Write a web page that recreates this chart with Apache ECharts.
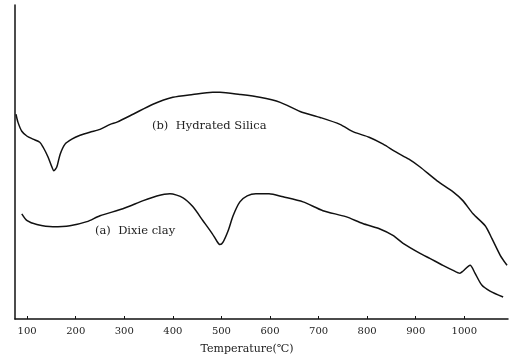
<!DOCTYPE html>
<html>
<head>
<meta charset="utf-8">
<script src="https://cdn.jsdelivr.net/npm/echarts@6/dist/echarts.min.js"></script>
<style>
  html, body { margin: 0; padding: 0; background: #fff; }
  #chart { width: 516px; height: 360px; }
</style>
</head>
<body>
<div id="chart"></div>
<script>
// DTA curves, temperature in deg C, deflection in arbitrary units (0-100)
const tempTicks = [100, 200, 300, 400, 500, 600, 700, 800, 900, 1000]

const silicaTemp = [77, 81, 89, 100, 112, 126, 133, 143, 151, 155, 161, 168, 178, 192, 209, 229, 250, 271, 285, 318, 359, 400, 441, 482, 497, 538, 579, 621, 662, 703, 744, 773, 804, 833, 859, 886, 909, 944, 977, 997, 1018, 1043, 1057, 1074, 1088]
const silicaDefl = [65.2, 62.7, 59.8, 58.2, 57.3, 56.3, 54.7, 51.6, 48.4, 47.2, 48.4, 52.5, 55.7, 57.3, 58.5, 59.5, 60.4, 62.0, 62.7, 65.2, 68.4, 70.6, 71.5, 72.2, 72.2, 71.5, 70.6, 69.0, 66.1, 64.2, 62.0, 59.5, 57.9, 55.7, 53.2, 50.9, 48.4, 44.0, 40.5, 37.7, 33.5, 29.7, 25.6, 20.3, 17.1]

const clayTemp = [89, 100, 120, 153, 188, 223, 250, 297, 339, 367, 394, 421, 441, 462, 481, 491, 497, 503, 514, 524, 538, 553, 571, 598, 627, 668, 709, 756, 791, 824, 853, 874, 909, 929, 956, 977, 991, 997, 1012, 1022, 1036, 1053, 1080]
const clayDefl = [33.5, 31.3, 30.1, 29.4, 29.7, 31.0, 32.9, 35.1, 37.7, 39.2, 39.9, 38.6, 35.8, 31.3, 27.2, 24.7, 23.7, 24.4, 28.2, 32.9, 37.3, 39.2, 39.9, 39.9, 38.9, 37.3, 34.5, 32.6, 30.4, 28.8, 26.6, 24.1, 20.9, 19.3, 17.1, 15.5, 14.6, 15.2, 17.1, 14.6, 10.8, 8.9, 7.0]

const serif = '"DejaVu Serif", "Liberation Serif", "Noto Sans CJK SC", serif'

const zip = (xs, ys) => xs.map((x, i) => [x, ys[i]])

const chart = echarts.init(document.getElementById('chart'))

const lineSeries = (name, xs, ys) => ({
  name,
  type: 'line',
  data: zip(xs, ys),
  smooth: 0.25,
  symbol: 'none',
  lineStyle: { color: '#111', width: 1.5 },
  animation: false,
})

chart.setOption({
  backgroundColor: '#fff',
  animation: false,
  grid: { left: 15, right: 8, top: 5, bottom: 39 },
  xAxis: {
    type: 'value',
    min: 75,
    max: 1090,
    splitLine: { show: false },
    axisLine: { lineStyle: { color: '#111', width: 1.5 } },
    axisTick: { inside: true, length: 3, lineStyle: { color: '#111' }, customValues: tempTicks },
    axisLabel: {
      customValues: tempTicks,
      formatter: (v) => String(v),
      color: '#222',
      fontSize: 10,
      fontFamily: serif,
      margin: 7,
    },
    name: 'Temperature(℃)',
    nameLocation: 'middle',
    nameGap: 25,
    nameTextStyle: { color: '#222', fontSize: 11, fontFamily: serif, padding: [0, 29, 0, 0] },
  },
  yAxis: {
    type: 'value',
    min: 0,
    max: 100,
    splitLine: { show: false },
    axisTick: { show: false },
    axisLabel: { show: false },
    axisLine: { show: true, lineStyle: { color: '#111', width: 1.5 } },
  },
  graphic: [
    {
      type: 'text',
      left: 152,
      top: 120,
      style: { text: '(b)  Hydrated Silica', fill: '#222', font: '11.5px ' + serif },
    },
    {
      type: 'text',
      left: 95,
      top: 225,
      style: { text: '(a)  Dixie clay', fill: '#222', font: '11.5px ' + serif },
    },
  ],
  series: [
    lineSeries('(b) Hydrated Silica', silicaTemp, silicaDefl),
    lineSeries('(a) Dixie clay', clayTemp, clayDefl),
  ],
})
</script>
</body>
</html>
